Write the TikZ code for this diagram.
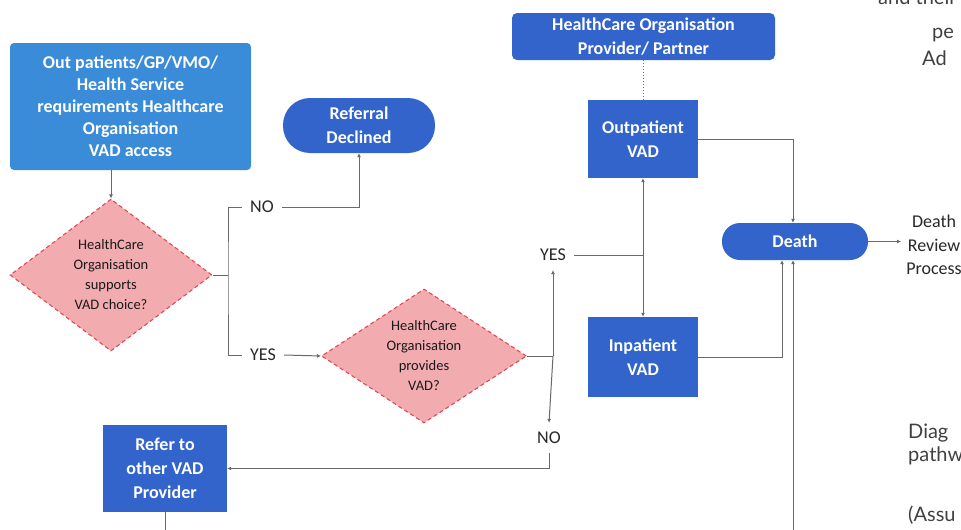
\documentclass[tikz,border=0pt]{standalone}
\usepackage{fontspec}
\setmainfont{Carlito}
\newfontfamily\sidefont{Lato}
\usetikzlibrary{arrows, positioning, shapes.geometric}
\usetikzlibrary {arrows.meta}
\usepackage{xcolor}
\definecolor{entrycolor}{RGB}{58,139,216}
\definecolor{stepcolor}{RGB}{50,100,204}
\definecolor{askcolor}{RGB}{242,172,176}
\definecolor{askborder}{RGB}{226,72,82}
\definecolor{linecolor}{RGB}{105,105,105}
\definecolor{labelcolor}{RGB}{40,40,40}

\begin{document}
\begin{tikzpicture}[x=1pt, y=-1pt, box/.style={rectangle, fill=stepcolor, text=white, align=center, inner sep=0pt, font=\fontsize{18}{24}\selectfont\bfseries},
    startbox/.style={box, fill=entrycolor, rounded corners=4pt, font=\fontsize{18}{22}\selectfont\bfseries}, pill/.style={box, rounded corners=18pt},
    ask/.style={diamond, aspect=1.5, fill=askcolor, draw=askborder, dashed, dash pattern=on 4pt off 3pt, line width=1.1pt, text=black!90, align=center, inner sep=0pt, font=\fontsize{14.5}{20}\selectfont},
    flow/.style={draw=linecolor, line width=1pt}, side/.style={inner sep=0pt, text=black!75, font=\sidefont\fontsize{20}{24}\selectfont}, >={Latex[length=4pt,width=4pt]}]
    \tikzstyle{answer} = [text=labelcolor, inner xsep=8pt, inner ysep=9pt, font=\fontsize{18}{22}\selectfont]

    \useasboundingbox (0,0) rectangle (961,530);
    \clip (0,0) rectangle (961,530);

    \node[startbox, minimum width=241pt, minimum height=127pt] (request) at (130.5,106.5) {Out patients/GP/VMO/\\Health Service\\requirements Healthcare\\Organisation\\VAD access};
    \node[box, rounded corners=27pt, minimum width=152pt, minimum height=55pt] (declined) at (359,125.5) {Referral\\Declined};
    \node[ask, minimum width=202pt, minimum height=152pt] (supports) at (111,275) {HealthCare\\Organisation\\supports\\VAD choice?};
    \node[ask, minimum width=205pt, minimum height=134pt] (provides) at (424,356) {HealthCare\\Organisation\\provides\\VAD?};
    \node[box, minimum width=124pt, minimum height=87pt] (refer) at (165,468.5) {Refer to\\other VAD\\Provider};

    \node[box, rounded corners=5pt, minimum width=263pt, minimum height=47pt] (partner) at (643.5,36.5) {HealthCare Organisation\\Provider/ Partner};
    \node[box, minimum width=110pt, minimum height=78pt] (outpatient) at (643,139) {Outpatient\\VAD};
    \node[box, minimum width=110pt, minimum height=80pt] (inpatient) at (643,357) {Inpatient\\VAD};
    \node[pill, minimum width=146pt, minimum height=37pt] (death) at (795,241.5) {Death};
    \node[align=center, text=labelcolor, inner sep=5pt, font=\fontsize{18}{23.5}\selectfont] (review) at (934,245) {Death\\Review\\Process};

    \node[answer] (no1) at (262,207) {NO};
    \node[answer] (yes1) at (263,355) {YES};
    \node[answer] (yes2) at (553,255) {YES};
    \node[answer] (no2) at (549,438) {NO};

    % text of the page beside the chart
    \node[side, anchor=base west] (sidetop) at (878,5) {and their};
    \node[side, anchor=base west] (sidepe) at (932,38) {pe};
    \node[side, anchor=base west] (sidead) at (922,65) {Ad};
    \node[side, anchor=base west] (sidediag) at (908,438) {Diag};
    \node[side, anchor=base west] (sidepath) at (908,461) {pathw};
    \node[side, anchor=base west] (sideassu) at (908,521) {(Assu};

    \coordinate (split) at (228,275);
    \coordinate (fork) at (553,356);
    \coordinate (care) at (outpatient.south |- yes2);
    \coordinate (referend) at (165,530);
    \coordinate (pageend) at (793,530);

    \draw[flow, ->] (supports.north |- request.south) -- (supports.north);
    \draw[flow] (supports.east) -- (split);
    \draw[flow] (no1.west) -| (split) |- (yes1.west);
    \draw[flow, ->] (no1.east) -| (declined.south);
    \draw[flow, ->] (yes1.east) -- (provides.west);
    \draw[flow] (provides.east) -- (fork);
    \draw[flow, ->] (fork) -- (yes2.south);
    \draw[flow, ->] (fork) -- (no2.north);
    \draw[flow, ->] (no2.south) |- (refer.east);
    \draw[flow] (refer.south) -- (referend);

    \draw[flow, dotted] (outpatient.north |- partner.south) -- (outpatient.north);
    \draw[flow] (yes2.east) -- (care);
    \draw[flow, ->] (care) -- (outpatient.south);
    \draw[flow, ->] (care) -- (inpatient.north);
    \draw[flow, ->] (outpatient.east) -| ([xshift=-2pt]death.north);
    \draw[flow, ->] (inpatient.east) -| ([xshift=-13pt]death.south);
    \draw[flow, ->] (pageend) -- ([xshift=-2pt]death.south);
    \draw[flow, ->] (death.east) -- (death.east -| review.west);

\end{tikzpicture}
\end{document}
